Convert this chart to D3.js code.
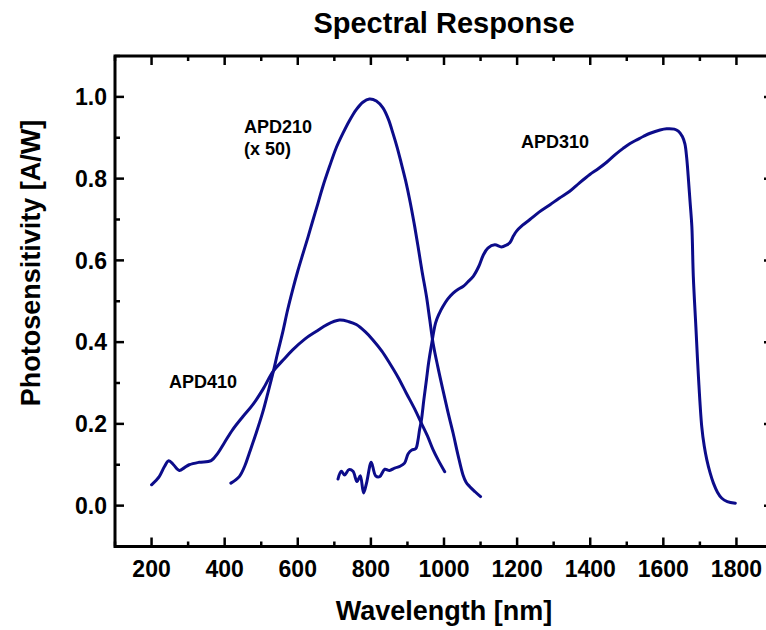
<!DOCTYPE html>
<html>
<head>
<meta charset="utf-8">
<script src="https://cdn.jsdelivr.net/npm/d3@7"></script>
<style>
  html, body { margin: 0; padding: 0; background: #fff; }
  svg { display: block; font-family: "Liberation Sans", Arial, sans-serif; }
</style>
</head>
<body>
<svg id="chart" width="766" height="630"></svg>
<script>
// ---- data ----
const title = "Spectral Response";
const xTitle = "Wavelength [nm]";
const yTitle = "Photosensitivity [A/W]";
const xTicks = [200, 400, 600, 800, 1000, 1200, 1400, 1600, 1800];
const yTicks = [0.0, 0.2, 0.4, 0.6, 0.8, 1.0];

const apd410 = [[200,0.051],[221,0.071],[235,0.095],[247,0.110],[260,0.100],[276,0.086],[290,0.093],[303,0.100],[330,0.106],[363,0.110],[381,0.128],[400,0.155],[422,0.186],[450,0.218],[477,0.247],[505,0.285],[532,0.328],[560,0.356],[586,0.381],[620,0.408],[650,0.426],[680,0.443],[714,0.454],[740,0.450],[760,0.443],[785,0.425],[805,0.406],[830,0.378],[851,0.349],[875,0.313],[897,0.275],[920,0.236],[938,0.202],[955,0.170],[970,0.137],[985,0.110],[1002,0.083]];

const apd210 = [[417,0.055],[440,0.071],[455,0.097],[468,0.130],[486,0.177],[504,0.228],[518,0.275],[532,0.324],[545,0.374],[559,0.425],[572,0.478],[586,0.528],[600,0.574],[614,0.616],[628,0.657],[641,0.697],[655,0.739],[668,0.779],[687,0.830],[705,0.875],[723,0.910],[742,0.943],[760,0.969],[778,0.987],[796,0.995],[815,0.990],[833,0.973],[848,0.945],[860,0.912],[872,0.876],[883,0.838],[895,0.795],[906,0.749],[918,0.692],[929,0.634],[940,0.573],[952,0.512],[961,0.455],[970,0.398],[983,0.340],[997,0.283],[1011,0.228],[1025,0.177],[1038,0.125],[1052,0.075],[1060,0.058],[1070,0.047],[1085,0.034],[1100,0.022]];

const apd310 = [[710,0.065],[719,0.084],[728,0.075],[740,0.088],[751,0.084],[762,0.059],[771,0.073],[780,0.031],[789,0.059],[801,0.106],[813,0.073],[824,0.071],[838,0.089],[851,0.086],[865,0.092],[879,0.096],[892,0.104],[902,0.127],[912,0.136],[920,0.138],[924,0.141],[929,0.161],[933,0.185],[938,0.208],[945,0.260],[952,0.308],[958,0.350],[965,0.389],[977,0.447],[987,0.470],[997,0.487],[1010,0.505],[1025,0.520],[1040,0.530],[1052,0.536],[1065,0.547],[1080,0.561],[1095,0.585],[1107,0.612],[1120,0.630],[1139,0.638],[1157,0.633],[1170,0.637],[1180,0.643],[1190,0.660],[1198,0.671],[1215,0.686],[1235,0.700],[1260,0.718],[1290,0.736],[1315,0.752],[1344,0.769],[1370,0.789],[1399,0.810],[1420,0.823],[1445,0.840],[1470,0.860],[1490,0.874],[1509,0.886],[1530,0.896],[1545,0.903],[1564,0.911],[1591,0.919],[1609,0.922],[1630,0.921],[1641,0.916],[1652,0.903],[1659,0.885],[1664,0.850],[1668,0.806],[1673,0.745],[1678,0.683],[1682,0.561],[1689,0.438],[1696,0.316],[1705,0.194],[1712,0.145],[1719,0.112],[1728,0.080],[1737,0.055],[1748,0.033],[1760,0.018],[1775,0.010],[1797,0.006]];

const seriesLabels = [
  {lines: ["APD210", "(x 50)"], x: 244, y: 133},
  {lines: ["APD410"], x: 169, y: 388},
  {lines: ["APD310"], x: 521, y: 148}
];

// ---- layout ----
(function () {
const svg = d3.select("#chart");
const pLeft = 115, pRight = 773, pTop = 56, pBottom = 546.5;
const x = d3.scaleLinear().domain([100, 1900]).range([pLeft, pRight]);
const y = d3.scaleLinear().domain([-0.1, 1.1]).range([pBottom, pTop]);
const lineColor = "#0c0c8a";

// curves
const line = d3.line().x(d => x(d[0])).y(d => y(d[1])).curve(d3.curveCatmullRom.alpha(0.5));
[apd410, apd210, apd310].forEach(s => {
  svg.append("path").datum(s).attr("d", line)
    .attr("fill", "none").attr("stroke", lineColor)
    .attr("stroke-width", 3).attr("stroke-linejoin", "round").attr("stroke-linecap", "round");
});

// minor ticks
const xMinor = d3.range(100, 1901, 100).filter(v => !xTicks.includes(v));
const yMinor = d3.range(-1, 12).map(v => v / 10).filter(v => !yTicks.some(t => Math.abs(t - v) < 1e-9));

const axisG = svg.append("g").attr("stroke", "#000").attr("stroke-width", 2.5);
const major = 9, minor = 5;
xTicks.forEach(v => {
  axisG.append("line").attr("x1", x(v)).attr("x2", x(v)).attr("y1", pBottom).attr("y2", pBottom - major);
  axisG.append("line").attr("x1", x(v)).attr("x2", x(v)).attr("y1", pTop).attr("y2", pTop + major);
});
xMinor.forEach(v => {
  axisG.append("line").attr("x1", x(v)).attr("x2", x(v)).attr("y1", pBottom).attr("y2", pBottom - minor);
  axisG.append("line").attr("x1", x(v)).attr("x2", x(v)).attr("y1", pTop).attr("y2", pTop + minor);
});
yTicks.forEach(v => {
  axisG.append("line").attr("x1", pLeft).attr("x2", pLeft + major).attr("y1", y(v)).attr("y2", y(v));
  axisG.append("line").attr("x1", pRight).attr("x2", pRight - major).attr("y1", y(v)).attr("y2", y(v));
});
yMinor.forEach(v => {
  axisG.append("line").attr("x1", pLeft).attr("x2", pLeft + minor).attr("y1", y(v)).attr("y2", y(v));
  axisG.append("line").attr("x1", pRight).attr("x2", pRight - minor).attr("y1", y(v)).attr("y2", y(v));
});
svg.append("rect").attr("x", pLeft).attr("y", pTop).attr("width", pRight - pLeft).attr("height", pBottom - pTop)
  .attr("fill", "none").attr("stroke", "#000").attr("stroke-width", 3);

// tick labels
svg.append("g").selectAll("text").data(xTicks).join("text")
  .attr("x", d => x(d)).attr("y", 577).attr("text-anchor", "middle")
  .attr("font-size", 23).attr("font-weight", "bold").attr("fill", "#000")
  .text(d => d);
svg.append("g").selectAll("text").data(yTicks).join("text")
  .attr("x", 107).attr("y", d => y(d)).attr("dy", "0.36em").attr("text-anchor", "end")
  .attr("font-size", 23).attr("font-weight", "bold").attr("fill", "#000")
  .text(d => d3.format(".1f")(d));

// titles
svg.append("text").attr("x", (pLeft + pRight) / 2).attr("y", 33).attr("text-anchor", "middle")
  .attr("font-size", 29).attr("font-weight", "bold").text(title);
svg.append("text").attr("x", (pLeft + pRight) / 2).attr("y", 620).attr("text-anchor", "middle")
  .attr("font-size", 27).attr("font-weight", "bold").text(xTitle);
svg.append("text").attr("transform", "translate(40,263) rotate(-90)").attr("text-anchor", "middle")
  .attr("font-size", 27).attr("font-weight", "bold").text(yTitle);

// series labels
seriesLabels.forEach(l => {
  const t = svg.append("text").attr("x", l.x).attr("y", l.y)
    .attr("font-size", 18).attr("font-weight", "bold").attr("fill", "#000");
  l.lines.forEach((s, i) => t.append("tspan").attr("x", l.x).attr("dy", i === 0 ? 0 : 22).text(s));
});
})();
</script>
</body>
</html>
